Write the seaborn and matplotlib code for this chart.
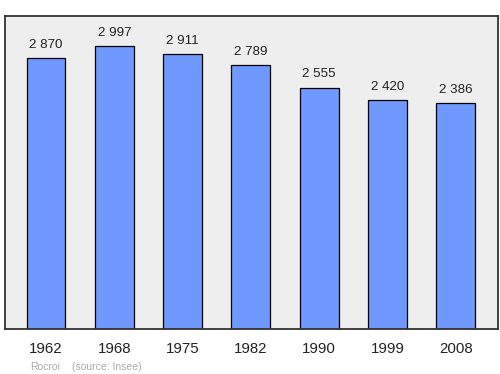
import matplotlib
matplotlib.use("Agg")
import matplotlib.pyplot as plt
import seaborn as sns
import pandas as pd

years = ["1962", "1968", "1975", "1982", "1990", "1999", "2008"]
population = [2870, 2997, 2911, 2789, 2555, 2420, 2386]
labels = ["2 870", "2 997", "2 911", "2 789", "2 555", "2 420", "2 386"]

sns.set_theme(style="white")
plt.rcParams['font.family'] = ['Liberation Sans', 'DejaVu Sans']

df = pd.DataFrame({"year": years, "pop": population})

fig = plt.figure(figsize=(5, 3.74), dpi=100)
ax = fig.add_axes([0.01, 0.1203, 0.986, 0.837])
ax.set_facecolor("#eeeeee")
sns.barplot(data=df, x="year", y="pop", ax=ax, color="#7099ff", saturation=1,
            width=0.57, edgecolor="black", linewidth=0.9)
ax.set_xlim(-0.6, 6.62)
ax.set_ylim(0, 3312)
for i, (v, t) in enumerate(zip(population, labels)):
    ax.text(i, v + 75, t, ha="center", va="bottom", fontsize=9.6, color="#222222")
ax.set_yticks([])
ax.set_xlabel("")
ax.set_ylabel("")
ax.tick_params(axis="x", length=0, pad=9, labelsize=10.8, labelcolor="#222222")
for s in ax.spines.values():
    s.set_visible(True)
    s.set_color("#333333")
    s.set_linewidth(1.3)
fig.text(0.06, 0.012, "Rocroi", fontsize=7.5, color="#aaaaaa")
fig.text(0.145, 0.012, "(source: Insee)", fontsize=7.5, color="#aaaaaa")
fig.savefig("out.png", dpi=100)
